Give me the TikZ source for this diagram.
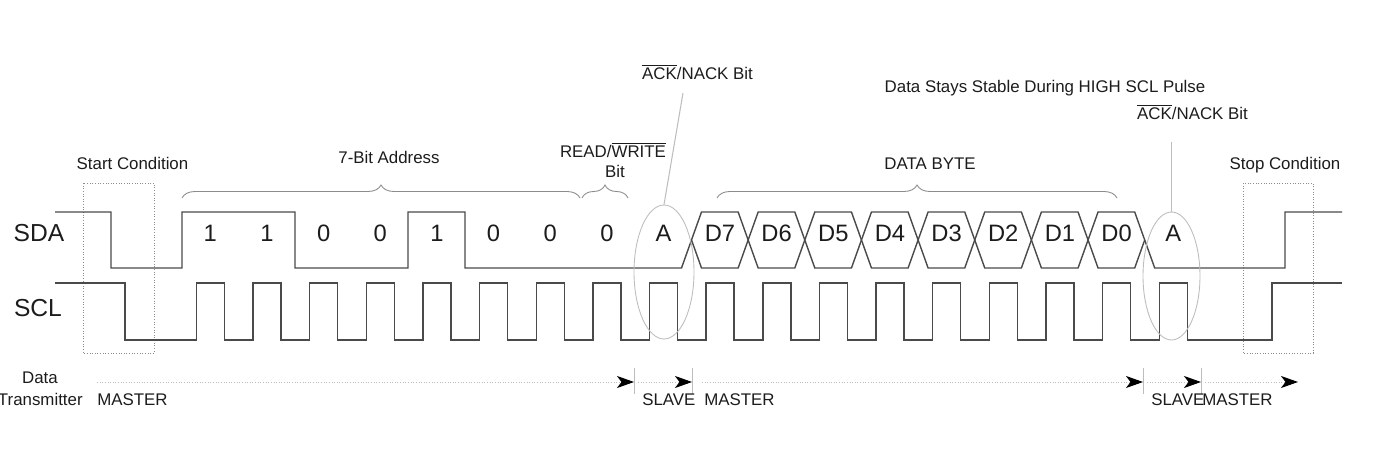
\documentclass[tikz,border=0pt]{standalone}
\usepackage{fontspec}
\setmainfont{Liberation Sans}
\usetikzlibrary{arrows.meta,decorations.pathreplacing,shapes.geometric}
\definecolor{wire}{HTML}{4A4A4A}
\definecolor{ink}{HTML}{1C1C1C}
\definecolor{faint}{HTML}{8C8C8C}
\definecolor{pale}{HTML}{BDBDBD}

\begin{document}
\begin{tikzpicture}[x=0.02cm,y=-0.02cm,
    wire/.style={draw=wire,line width=0.8pt,line join=miter},
    siglbl/.style={text=ink,font=\fontsize{14}{16}\selectfont},
    bitlbl/.style={text=ink,font=\fontsize{13.5}{15}\selectfont},
    note/.style={text=ink,font=\fontsize{9.6}{11}\selectfont,anchor=base,inner sep=0pt},
    bracket/.style={draw=faint,line width=0.5pt,decorate,decoration={brace,amplitude=0.26cm}},
    condbox/.style={draw=faint,densely dotted,line width=0.5pt},
    ring/.style={draw=pale,line width=0.5pt,ellipse,inner sep=0pt},
    leader/.style={draw=pale,line width=0.6pt},
    sepline/.style={draw=pale,line width=0.5pt},
    xfer/.style={draw=pale,densely dotted,line width=0.5pt,-{Stealth[length=0.34cm,width=0.24cm,inset=0.09cm,color=black]}}]
    \useasboundingbox (0,0) rectangle (1383,456);
    % condition boxes
    \draw[condbox] (83,183) rectangle (154,353);
    \draw[condbox] (1243,183) rectangle (1313,353);
    % SDA
    \draw[wire] (55,212) -- (111,212) -- (111,268) -- (182,268) -- (182,212) -- (295,212) -- (295,268)
        -- (408,268) -- (408,212) -- (465,212) -- (465,268) -- (681.5,268) -- (691.5,240);
    \foreach \j in {0,...,7}{
        \pgfmathsetmacro\a{691.5+56.65*\j}
        \pgfmathsetmacro\b{691.5+56.65*(\j+1)}
        \draw[wire] (\a,240) -- (\a+10,212) -- (\b-10,212) -- (\b,240) -- (\b-10,268) -- (\a+10,268) -- cycle;
    }
    \draw[wire] (1144.7,240) -- (1154.7,268) -- (1285,268) -- (1285,212) -- (1342,212);
    % SCL
    \draw[wire] (55,283) -- (125,283) -- (125,340)
        \foreach \k in {0,...,17}{ -- ({196.3+56.65*\k},340) -- ++(0,-57) -- ++(28,0) -- ++(0,57) }
        -- (1272,340) -- (1272,283) -- (1342,283);
    \node[siglbl] (sda) at (39,233.5) {SDA};
    \node[siglbl] (scl) at (38,308) {SCL};
    % bit values
    \foreach \k/\v in {0/1,1/1,2/0,3/0,4/1,5/0,6/0,7/0,8/A}
        \node[bitlbl] (bit\k) at ({210.3+56.65*\k},233) {\v};
    \foreach \j/\d in {0/7,1/6,2/5,3/4,4/3,5/2,6/1,7/0}
        \node[bitlbl] (dat\d) at ({720+56.65*\j},233) {D\d};
    \node[bitlbl] (ackb) at (1173.3,233) {A};
    % braces and notes
    \draw[bracket] (182,198) -- (580,198);
    \draw[bracket] (582,198) -- (628,198);
    \draw[bracket] (717,198) -- (1117,198);
    \node[note] (startlbl) at (132.5,170) {Start Condition};
    \node[note] (addrlbl) at (389,163) {7-Bit Address};
    \node[note] (rwlbl) at (613,157) {READ/$\overline{\mbox{WRITE}}$};
    \node[note] (rwbit) at (615,177) {Bit};
    \node[note] (bytelbl) at (930,170) {DATA BYTE};
    \node[note] (stablelbl) at (1045,92) {Data Stays Stable During HIGH SCL Pulse};
    \node[note] (stoplbl) at (1285,170) {Stop Condition};
    \node[note] (ack1) at (697.5,80) {$\overline{\mbox{ACK}}$/NACK Bit};
    \node[note] (ack2) at (1192.5,120) {$\overline{\mbox{ACK}}$/NACK Bit};
    % acknowledge rings
    \node[ring,minimum width=1.2cm,minimum height=2.68cm] (ring1) at (664,272) {};
    \node[ring,minimum width=1.14cm,minimum height=2.56cm] (ring2) at (1171.5,276) {};
    \draw[leader] (683,93) -- (ring1.north);
    \draw[leader] (1171.5,142) -- (ring2.north);
    % data transmitter
    \node[note] (datalbl) at (40,383) {Data};
    \node[note,anchor=base east] (txlbl) at (83,405) {Transmitter};
    \coordinate (m0) at (97,382);
    \coordinate (s1) at (634,382);
    \coordinate (m1) at (692,382);
    \coordinate (s2) at (1143,382);
    \coordinate (m2) at (1201,382);
    \coordinate (e0) at (1298,382);
    \foreach \c in {s1,m1,s2,m2}
        \draw[sepline] (\c) ++(0,-14) -- ++(0,26);
    \draw[xfer] (m0) -- (s1);
    \draw[xfer] ([xshift=0.08cm]s1) -- (m1);
    \draw[xfer] ([xshift=0.2cm]m1) -- (s2);
    \draw[xfer] ([xshift=0.08cm]s2) -- (m2);
    \draw[xfer] ([xshift=0.08cm]m2) -- (e0);
    \node[note,anchor=base west] (mst0) at (97,405) {MASTER};
    \node[note,anchor=base west] (slv1) at (642,405) {SLAVE};
    \node[note,anchor=base west] (mst1) at (704,405) {MASTER};
    \node[note,anchor=base west] (slv2) at (1151,405) {SLAVE};
    \node[note,anchor=base west] (mst2) at (1202,405) {MASTER};
\end{tikzpicture}
\end{document}
